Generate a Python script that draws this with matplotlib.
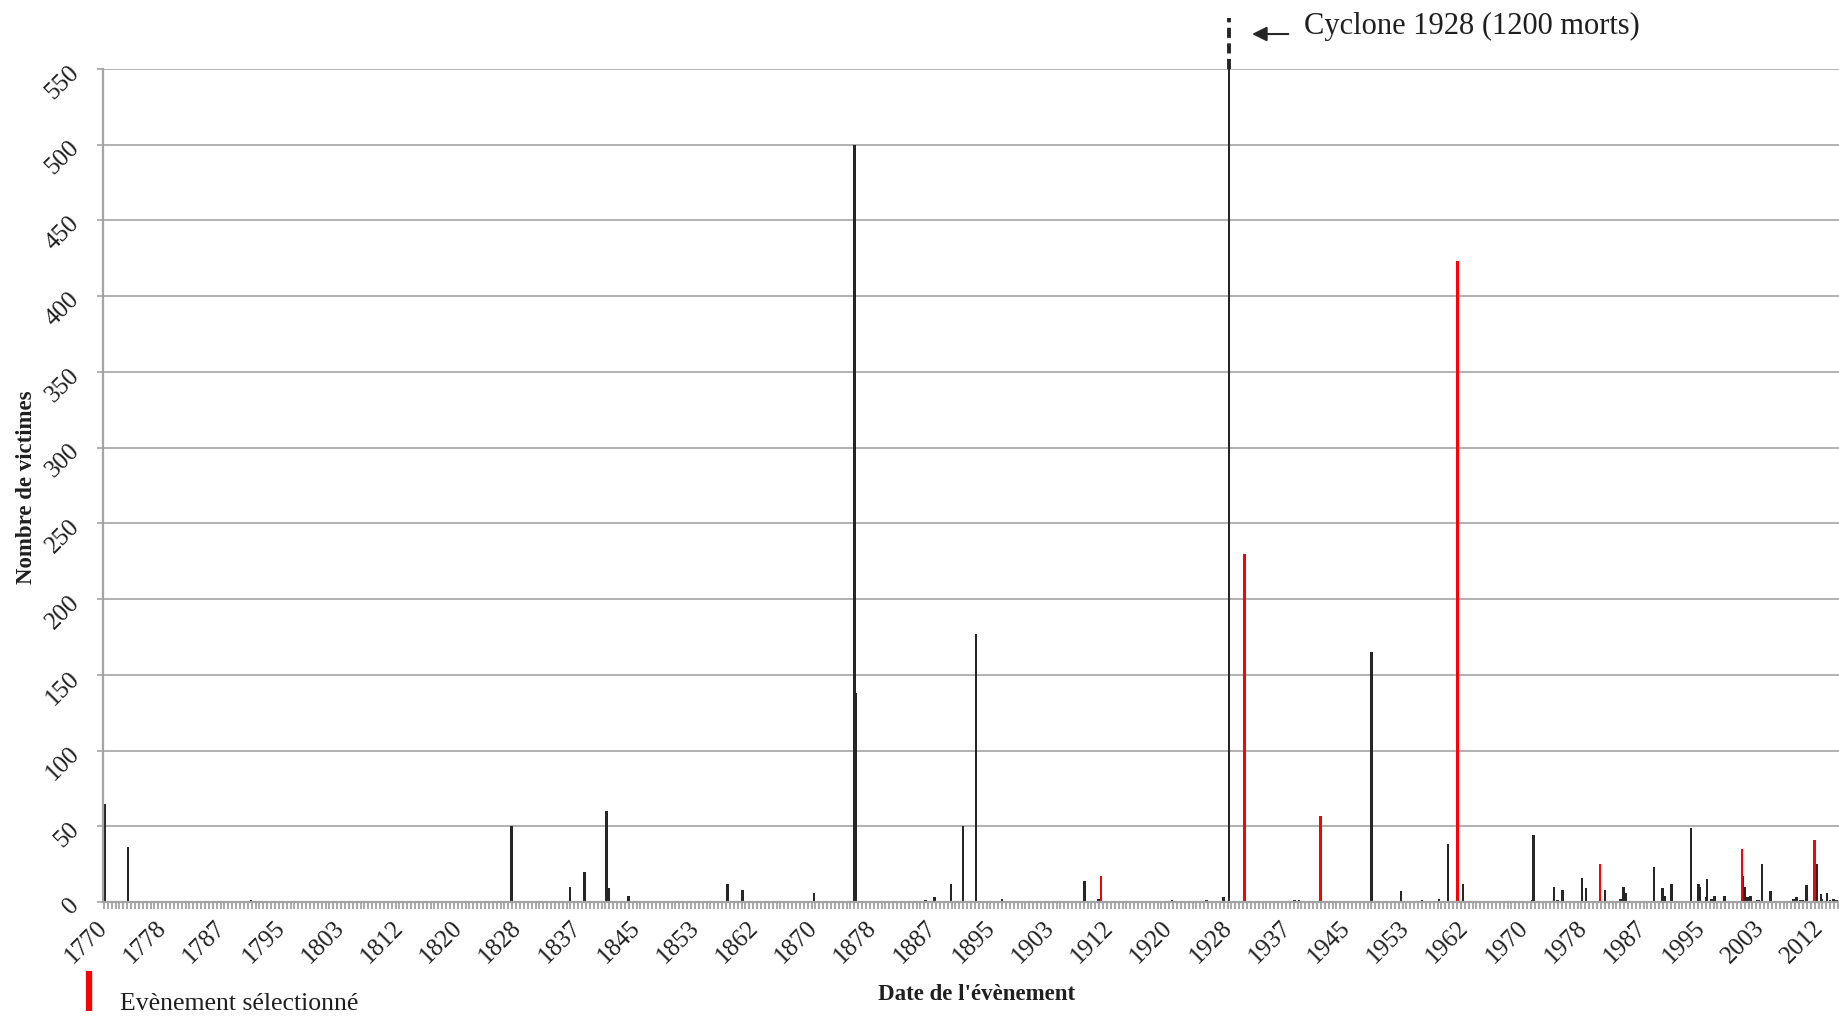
import matplotlib.pyplot as plt
from matplotlib.ticker import MultipleLocator
import matplotlib.transforms as mtransforms

plt.rcParams['font.family'] = ['Liberation Serif', 'DejaVu Serif']

# events (fractional year) and number of victims
years = [1770.45, 1773.8, 1791.1, 1827.8, 1836.0, 1838.05, 1841.2, 1841.5, 1844.3,
         1858.2, 1860.3, 1870.4, 1876.1, 1876.3, 1886.1, 1887.4, 1889.7, 1891.4,
         1893.2, 1896.9, 1908.5, 1910.5, 1920.8, 1925.7, 1928.05, 1928.85,
         1938.05, 1938.7, 1948.9, 1953.1, 1956.0, 1958.4, 1959.7, 1961.8,
         1971.5, 1971.7, 1974.6, 1975.1, 1975.8, 1978.6, 1979.1, 1981.8,
         1984.0, 1984.4, 1984.7, 1988.7, 1989.9, 1990.2, 1991.2, 1993.9,
         1995.0, 1995.2, 1996.0, 1996.2, 1996.8, 1997.2, 1998.6, 2001.2,
         2001.5, 2001.9, 2002.3, 2003.2, 2003.5, 2003.9, 2005.1, 2008.3,
         2008.5, 2008.8, 2009.3, 2009.6, 2010.2, 2011.6, 2012.2, 2012.4,
         2013.1, 2013.5, 2014.0, 2014.4]
victims = [65, 36, 1, 50, 10, 20, 60, 9, 4,
           12, 8, 6, 500, 138, 1, 3, 12, 50,
           177, 2, 14, 2, 1, 1, 3, 1200,
           1, 1, 165, 7, 1, 2, 38, 12,
           1, 44, 10, 1, 8, 16, 9, 8,
           2, 10, 6, 23, 9, 4, 12, 49,
           12, 10, 3, 15, 2, 4, 4, 17,
           10, 3, 4, 1, 1, 25, 7, 2,
           2, 3, 1, 1, 11, 25, 5, 2,
           6, 1, 2, 1]

# selected events (red)
sel_years = [1910.8, 1931.0, 1941.7, 1961.0, 1981.1, 2001.1, 2011.3]
sel_victims = [17, 230, 57, 423, 25, 35, 41]

tick_labels = ['1770', '1778', '1787', '1795', '1803', '1812', '1820', '1828',
               '1837', '1845', '1853', '1862', '1870', '1878', '1887', '1895',
               '1903', '1912', '1920', '1928', '1937', '1945', '1953', '1962',
               '1970', '1978', '1987', '1995', '2003', '2012']
first_tick = 1770.4
tick_step = 8.336

W, H = 1839, 1018
grey = '#a3a3a3'
dark = '#262626'
txt = '#1f1f1f'

fig = plt.figure(figsize=(W / 100, H / 100), dpi=100)
ax = fig.add_axes([103 / W, 1 - 902 / H, (W - 103) / W, (902 - 69) / H])

ax.bar(years, victims, width=0.35, color=dark, zorder=2)
ax.bar(sel_years, sel_victims, width=0.35, color='#ff0000', zorder=3)

ax.set_xlim(1770.26, 2014.76)
ax.set_ylim(0, 550)

# axes style
for s in ['top', 'right']:
    ax.spines[s].set_visible(False)
for s in ['left', 'bottom']:
    ax.spines[s].set_color(grey)
    ax.spines[s].set_linewidth(1.6)
    ax.spines[s].set_zorder(4)
ax.set_axisbelow(True)
ax.yaxis.grid(True, color=grey, linewidth=1.2)

ax.set_yticks(range(0, 551, 50))
ax.set_xticks([first_tick + k * tick_step for k in range(len(tick_labels))])
ax.set_xticklabels(tick_labels)
ax.xaxis.set_minor_locator(MultipleLocator(0.5476))

ax.tick_params(axis='x', which='minor', direction='out', length=5, width=1.3,
               color=grey)
ax.tick_params(axis='x', which='major', length=0, labelsize=18,
               labelcolor=txt, pad=16)
ax.tick_params(axis='y', direction='out', length=4.5, width=1.2,
               color=grey, labelsize=18, labelcolor=txt, pad=15)
plt.setp(ax.get_xticklabels(), rotation=45, ha='right', va='center',
         rotation_mode='anchor')
plt.setp(ax.get_yticklabels(), rotation=45, ha='right', va='center',
         rotation_mode='anchor')

# annotation for the 1928 cyclone
trans = mtransforms.blended_transform_factory(ax.transData, ax.transAxes)
ax.plot([1928.85, 1928.85], [1.0, 1.061], transform=trans, clip_on=False,
        color=dark, lw=2.8, linestyle=(0, (2.6, 1.4)), zorder=5)
ax.annotate('', xy=(1932.1, 1.042), xytext=(1937.2, 1.042),
            xycoords=trans, textcoords=trans,
            arrowprops=dict(arrowstyle='-|>', color=dark, lw=1.5,
                            mutation_scale=22, shrinkA=0, shrinkB=0))
ax.text(1939.4, 1.051, 'Cyclone 1928 (1200 morts)', transform=trans,
        ha='left', va='center', fontsize=22, color=txt)

# axis titles
fig.text(977 / W, 1 - 994 / H, "Date de l'évènement", ha='center', va='center',
         fontsize=16.5, fontweight='bold', color=txt)
fig.text(27 / W, 1 - 487 / H, 'Nombre de victimes', ha='center', va='center',
         rotation=90, fontsize=16.5, fontweight='bold', color=txt)

# legend
fig.add_artist(plt.Line2D([88.5 / W, 88.5 / W], [1 - 971 / H, 1 - 1011 / H],
                          transform=fig.transFigure, color='#ff0000', lw=4.5,
                          solid_capstyle='butt'))
fig.text(120 / W, 1 - 1004 / H, 'Evènement sélectionné', ha='left', va='center',
         fontsize=18.5, color=txt)

fig.savefig('out.png', dpi=100)
